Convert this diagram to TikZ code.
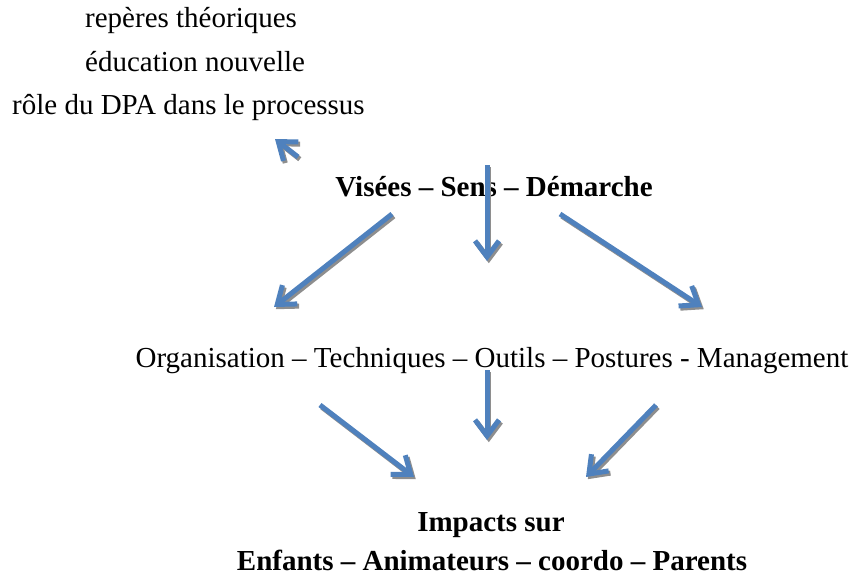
\documentclass[tikz,border=0pt]{standalone}
\usepackage{fontspec}
\setmainfont{Liberation Serif}
\usetikzlibrary{arrows.meta}
\definecolor{arrowblue}{HTML}{4F81BD}
\definecolor{shadowgray}{HTML}{8E8E8E}
\tikzset{
  txt/.style={inner sep=0pt, anchor=base, font=\fontsize{29}{34}\selectfont},
  txtl/.style={txt, anchor=base west},
  btxt/.style={txt, font=\fontsize{29}{34}\selectfont\bfseries},
  blarrow/.style={draw=arrowblue, line width=5pt,
    -{Straight Barb[length=16pt,width=24pt,line width=5pt]},
    preaction={draw=shadowgray, line width=5pt,
      -{Straight Barb[length=16pt,width=24pt,line width=5pt]},
      transform canvas={shift={(1.8pt,-2.2pt)}}}}
}
\begin{document}
\begin{tikzpicture}[x=1pt,y=-1pt]
\useasboundingbox (0,0) rectangle (856,575);
\node[txtl] (t1) at (85,28) {repères théoriques};
\node[txtl] (t2) at (85,72) {éducation nouvelle};
\node[txtl] (t3) at (12,115) {rôle du DPA dans le processus};
\node[btxt] (vis) at (494,196) {Visées – Sens – Démarche};
\node[txt] (org) at (492,367) {Organisation – Techniques – Outils – Postures - Management};
\node[btxt] (imp) at (491,531) {Impacts sur};
\node[btxt] (enf) at (492,570) {Enfants – Animateurs – coordo – Parents};
% arrow end points
\coordinate (a0s) at (298,157); \coordinate (a0e) at (275,139);
\coordinate (a1s) at (487,165); \coordinate (a1e) at (487,261);
\coordinate (a2s) at (392,214); \coordinate (a2e) at (274,307);
\coordinate (a3s) at (560,214); \coordinate (a3e) at (702,307);
\coordinate (a4s) at (487,370); \coordinate (a4e) at (487,440);
\coordinate (a5s) at (320,405); \coordinate (a5e) at (414,477);
\coordinate (a6s) at (656,405); \coordinate (a6e) at (586,477);
\draw[blarrow] (a0s) -- (a0e);
\draw[blarrow] (a1s) -- (a1e);
\draw[blarrow] (a2s) -- (a2e);
\draw[blarrow] (a3s) -- (a3e);
\draw[blarrow] (a4s) -- (a4e);
\draw[blarrow] (a5s) -- (a5e);
\draw[blarrow] (a6s) -- (a6e);
\end{tikzpicture}
\end{document}
